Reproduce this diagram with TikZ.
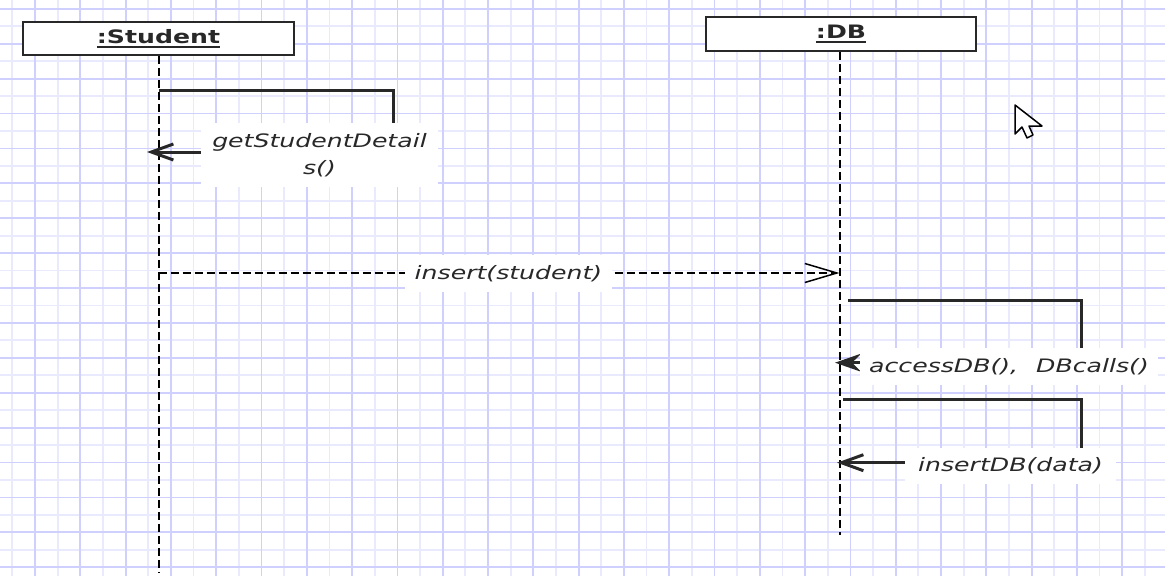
\documentclass[tikz,border=0pt]{standalone}
\usepackage{fontspec}
\setmainfont{DejaVu Sans}[FakeStretch=1.36]
\usetikzlibrary{arrows.meta}

\definecolor{gridmajor}{RGB}{208,208,255}
\definecolor{gridminor}{RGB}{234,234,255}
\definecolor{ink}{RGB}{40,40,40}

\newcommand\ulname[1]{\setbox0\hbox{#1}\rlap{\rule[-4pt]{\wd0}{2pt}}\box0}

\tikzset{
  lifebox/.style={draw=ink, line width=1.5pt, fill=white, minimum width=271pt, minimum height=33pt, inner sep=0pt, font=\fontsize{18.5}{27}\selectfont\bfseries, text=ink},
  lifeline/.style={draw=black, line width=2pt, dash pattern=on 8pt off 4pt},
  msgline/.style={draw=ink, line width=3pt},
  msglabel/.style={fill=white, inner sep=0pt, font=\fontsize{18.5}{27}\selectfont\itshape, text=ink, align=center},
}

\begin{document}
\begin{tikzpicture}[x=1pt, y=-1pt]
	\useasboundingbox (0,0) rectangle (1165,576);
	\fill[white] (0,0) rectangle (1165,576);

	% grid
	\begin{scope}[line width=1.8pt]
		\foreach \x in {0,...,25}
			\draw[gridminor] ({12.3+45.3*\x},0) -- ({12.3+45.3*\x},576);
		\foreach \y in {0,...,15}
			\draw[gridminor] (0,{26.25+34.9*\y}) -- (1165,{26.25+34.9*\y});
		\foreach \x in {0,...,24}
			\draw[gridmajor] ({35+45.3*\x},0) -- ({35+45.3*\x},576);
		\foreach \y in {0,...,16}
			\draw[gridmajor] (0,{8.8+34.9*\y}) -- (1165,{8.8+34.9*\y});
	\end{scope}

	% objects and lifelines
	\node[lifebox] (S) at (158.5,38.5) {\ulname{:Student}};
	\node[lifebox, minimum width=270pt, minimum height=34pt] (D) at (841,34) {\ulname{:DB}};
	\coordinate (Send) at (158.5,572);
	\coordinate (Dend) at (839.5,535);
	\draw[lifeline] (S) -- (Send);
	\draw[lifeline] (D.south -| Dend) -- (Dend);

	% getStudentDetails()
	\coordinate (g1) at (158.5,90);
	\coordinate (g2) at (393,90);
	\coordinate (g3) at (393,152);
	\coordinate (g4) at (147,152);
	\draw[msgline, -{Straight Barb[length=22pt,width=16pt]}] (g1) -- (g2) -- (g3) -- (g4);
	\node[msglabel, minimum width=237pt, minimum height=64pt] (G) at (319.5,155) {getStudentDetail\\s()};

	% insert(student)
	\coordinate (i1) at (158.5,273);
	\coordinate (i2) at (839.5,273);
	\draw[lifeline, -{Straight Barb[length=32pt,width=19pt,line width=1.5pt]}] (i1) -- (i2);
	\node[msglabel, minimum width=207pt, minimum height=37pt] (I) at (508.5,273.5) {insert(student)};

	% accessDB(), DBcalls()
	\coordinate (a1) at (848,300);
	\coordinate (a2) at (1081.5,300);
	\coordinate (a3) at (1081.5,362.7);
	\coordinate (a4) at (835,362.7);
	\draw[msgline, -{Stealth[length=26pt,width=18pt,inset=9pt]}] (a1) -- (a2) -- (a3) -- (a4);
	\node[msglabel, minimum width=298pt, minimum height=37pt] (A) at (1009,366.5) {accessDB(),\hspace{10pt} DBcalls()};

	% insertDB(data)
	\coordinate (t1) at (843,399.5);
	\coordinate (t2) at (1081.5,399.5);
	\coordinate (t3) at (1081.5,462.7);
	\coordinate (t4) at (837,462.7);
	\draw[msgline, -{Straight Barb[length=22pt,width=16pt]}] (t1) -- (t2) -- (t3) -- (t4);
	\node[msglabel, minimum width=211pt, minimum height=36pt] (T) at (1010.5,466) {insertDB(data)};

	% mouse pointer
	\filldraw[fill=white, draw=black, line width=1.5pt, line join=round]
		(1015,105) -- (1015,134) -- (1022,127) -- (1027,138) -- (1033,135) -- (1029,126) -- (1042,126) -- cycle;
\end{tikzpicture}
\end{document}
